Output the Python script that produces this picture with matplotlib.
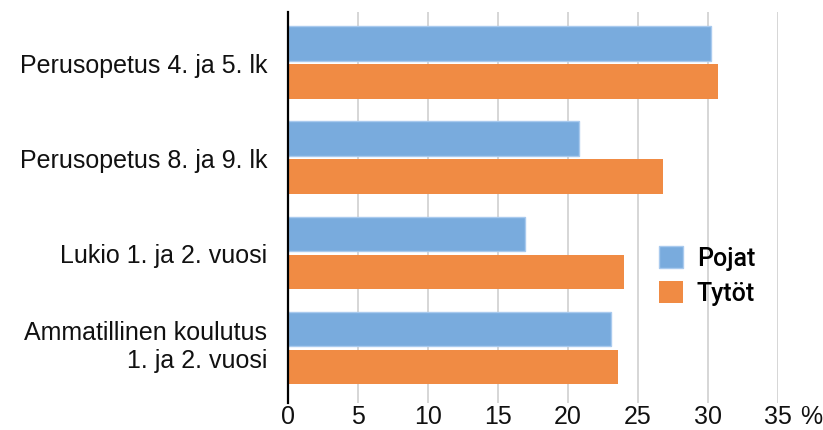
import matplotlib
matplotlib.use("Agg")
import matplotlib.pyplot as plt
import matplotlib.transforms as mtrans
import numpy as np

categories = ["Perusopetus 4. ja 5. lk", "Perusopetus 8. ja 9. lk",
              "Lukio 1. ja 2. vuosi", "Ammatillinen koulutus\n1. ja 2. vuosi"]
series_names = ["Pojat", "Tytöt"]
pojat = [30.2, 20.8, 16.9, 23.1]
tytot = [30.7, 26.8, 24.0, 23.6]
xticks = [0, 5, 10, 15, 20, 25, 30, 35]
xticklabels = ["0", "5", "10", "15", "20", "25", "30", "35"]
unit = "%"

blue = "#79ABDD"
blue_edge = "#A9CAEE"
orange = "#F08B44"

plt.rcParams['font.family'] = ['Liberation Sans', 'DejaVu Sans']
W, H = 823, 431
fig = plt.figure(figsize=(W / 100, H / 100), dpi=100)
ax = fig.add_axes([288 / W, 1 - 404 / H, (778 - 288) / W, (404 - 13) / H])

y = np.arange(len(categories))
bh = 0.36
ax.barh(y - 0.2, pojat, height=bh, color=blue, edgecolor=blue_edge, linewidth=1.0,
        label=series_names[0], zorder=3)
ax.barh(y + 0.2, tytot, height=bh, color=orange, edgecolor=orange, linewidth=0.0,
        label=series_names[1], zorder=3)

ax.set_xlim(0, 35)
ax.set_ylim(3.58, -0.53)
ax.set_xticks(xticks)
ax.set_xticklabels(xticklabels)
ax.set_yticks(y)
ylabels = ax.set_yticklabels(categories, ha='right', multialignment='right', linespacing=1.2)
ax.tick_params(axis='both', length=0, labelsize=18, colors='#111111')
ax.tick_params(axis='x', pad=1)
ax.tick_params(axis='y', pad=15)
ax.grid(axis='x', color='#CCCCCC', linewidth=1.1, zorder=0)
ax.set_axisbelow(True)
for s in ['top', 'right', 'bottom']:
    ax.spines[s].set_visible(False)
ax.spines['left'].set_linewidth(1.6)
ax.spines['left'].set_color('black')
ax.spines['left'].set_zorder(4)

# two-line label sits slightly above its row centre in the reference
lab = ax.get_yticklabels()[-1]
lab.set_transform(lab.get_transform() + mtrans.ScaledTranslation(0, 6 / 100, fig.dpi_scale_trans))

ax.annotate(unit, xy=(35, 0), xycoords=('data', 'axes fraction'),
            xytext=(22, -1), textcoords='offset pixels',
            ha='left', va='top', fontsize=18, color='#111111')

leg = ax.legend(loc='upper left', bbox_to_anchor=(659 / W, 1 - 247 / H),
                bbox_transform=fig.transFigure, frameon=False,
                prop={'family': ['Roboto', 'Liberation Sans'], 'weight': 'medium', 'size': 18},
                handlelength=0.96, handleheight=0.96, labelspacing=0.42,
                handletextpad=0.55, borderpad=0, borderaxespad=0)

fig.savefig("out.png", dpi=100)
